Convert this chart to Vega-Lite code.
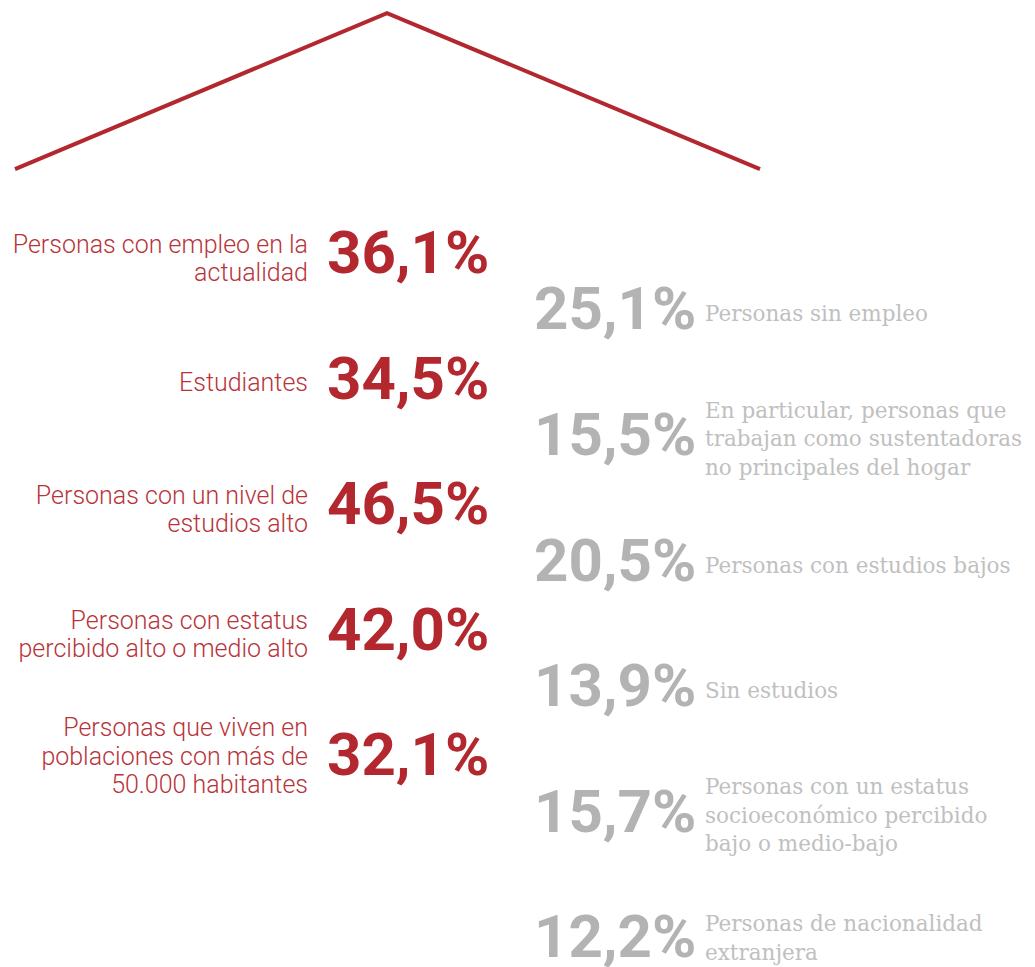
{
  "$schema": "https://vega.github.io/schema/vega-lite/v6.json",
  "width": 1035,
  "height": 967,
  "padding": 0,
  "autosize": {"type": "none"},
  "background": "white",
  "config": {"view": {"stroke": null}},
  "datasets": {
    "items": [
      {"side": "left", "slot": 0, "value": "36,1%", "label": "Personas con empleo en la\nactualidad"},
      {"side": "left", "slot": 1, "value": "34,5%", "label": "Estudiantes"},
      {"side": "left", "slot": 2, "value": "46,5%", "label": "Personas con un nivel de\nestudios alto"},
      {"side": "left", "slot": 3, "value": "42,0%", "label": "Personas con estatus\npercibido alto o medio alto"},
      {"side": "left", "slot": 4, "value": "32,1%", "label": "Personas que viven en\npoblaciones con más de\n50.000 habitantes"},
      {"side": "right", "slot": 0.45, "value": "25,1%", "label": "Personas sin empleo"},
      {"side": "right", "slot": 1.45, "value": "15,5%", "label": "En particular, personas que\ntrabajan como sustentadoras\nno principales del hogar"},
      {"side": "right", "slot": 2.45, "value": "20,5%", "label": "Personas con estudios bajos"},
      {"side": "right", "slot": 3.45, "value": "13,9%", "label": "Sin estudios"},
      {"side": "right", "slot": 4.45, "value": "15,7%", "label": "Personas con un estatus\nsocioeconómico percibido\nbajo o medio-bajo"},
      {"side": "right", "slot": 5.45, "value": "12,2%", "label": "Personas de nacionalidad\nextranjera"}
    ]
  },
  "layer": [
    {
      "data": {"values": [
        {"px": 15, "py": -0.685},
        {"px": 387, "py": -1.928},
        {"px": 760, "py": -0.685}
      ]},
      "mark": {"type": "line", "color": "#b3282e", "strokeWidth": 4, "strokeCap": "butt", "strokeJoin": "miter"},
      "encoding": {
        "x": {"field": "px", "type": "quantitative", "scale": {"domain": [0, 1035], "nice": false, "zero": false}, "axis": null},
        "y": {"field": "py", "type": "quantitative", "scale": {"domain": [-2.032, 5.673], "nice": false, "zero": false, "reverse": true}, "axis": null},
        "order": {"field": "px", "type": "quantitative"}
      }
    },
    {
      "data": {"name": "items"},
      "transform": [{"filter": "datum.side === 'left' && length(split(datum.label, '\\n')) == 1"}],
      "mark": {"type": "text", "align": "right", "baseline": "middle", "font": "Roboto", "fontWeight": 300, "fontSize": 25, "lineHeight": 28, "lineBreak": "\n", "color": "#b8343a", "dy": 2},
      "encoding": {
        "x": {"datum": 308, "type": "quantitative"},
        "y": {"field": "slot", "type": "quantitative"},
        "text": {"field": "label"}
      }
    },
    {
      "data": {"name": "items"},
      "transform": [{"filter": "datum.side === 'left' && length(split(datum.label, '\\n')) == 2"}],
      "mark": {"type": "text", "align": "right", "baseline": "middle", "font": "Roboto", "fontWeight": 300, "fontSize": 25, "lineHeight": 28, "lineBreak": "\n", "color": "#b8343a", "dy": -10.5},
      "encoding": {
        "x": {"datum": 308, "type": "quantitative"},
        "y": {"field": "slot", "type": "quantitative"},
        "text": {"field": "label"}
      }
    },
    {
      "data": {"name": "items"},
      "transform": [{"filter": "datum.side === 'left' && length(split(datum.label, '\\n')) == 3"}],
      "mark": {"type": "text", "align": "right", "baseline": "middle", "font": "Roboto", "fontWeight": 300, "fontSize": 25, "lineHeight": 28.5, "lineBreak": "\n", "color": "#b8343a", "dy": -29},
      "encoding": {
        "x": {"datum": 308, "type": "quantitative"},
        "y": {"field": "slot", "type": "quantitative"},
        "text": {"field": "label"}
      }
    },
    {
      "data": {"name": "items"},
      "transform": [{"filter": "datum.side === 'left'"}],
      "mark": {"type": "text", "align": "left", "baseline": "middle", "font": "Roboto", "fontWeight": "bold", "fontSize": 60, "color": "#b3282e", "dy": 0},
      "encoding": {
        "x": {"datum": 327, "type": "quantitative"},
        "y": {"field": "slot", "type": "quantitative"},
        "text": {"field": "value"}
      }
    },
    {
      "data": {"name": "items"},
      "transform": [{"filter": "datum.side === 'right'"}],
      "mark": {"type": "text", "align": "left", "baseline": "middle", "font": "Roboto", "fontWeight": "bold", "fontSize": 60, "color": "#b3b3b3", "dy": 0},
      "encoding": {
        "x": {"datum": 534, "type": "quantitative"},
        "y": {"field": "slot", "type": "quantitative"},
        "text": {"field": "value"}
      }
    },
    {
      "data": {"name": "items"},
      "transform": [{"filter": "datum.side === 'right' && length(split(datum.label, '\\n')) == 1"}],
      "mark": {"type": "text", "align": "left", "baseline": "middle", "font": "DejaVu Serif", "fontWeight": "normal", "fontSize": 21.5, "lineHeight": 28.5, "lineBreak": "\n", "color": "#c0c0c0", "dy": 4},
      "encoding": {
        "x": {"datum": 705, "type": "quantitative"},
        "y": {"field": "slot", "type": "quantitative"},
        "text": {"field": "label"}
      }
    },
    {
      "data": {"name": "items"},
      "transform": [{"filter": "datum.side === 'right' && length(split(datum.label, '\\n')) == 2"}],
      "mark": {"type": "text", "align": "left", "baseline": "middle", "font": "DejaVu Serif", "fontWeight": "normal", "fontSize": 21.5, "lineHeight": 28.5, "lineBreak": "\n", "color": "#c0c0c0", "dy": -14},
      "encoding": {
        "x": {"datum": 705, "type": "quantitative"},
        "y": {"field": "slot", "type": "quantitative"},
        "text": {"field": "label"}
      }
    },
    {
      "data": {"name": "items"},
      "transform": [{"filter": "datum.side === 'right' && length(split(datum.label, '\\n')) == 3"}],
      "mark": {"type": "text", "align": "left", "baseline": "middle", "font": "DejaVu Serif", "fontWeight": "normal", "fontSize": 21.5, "lineHeight": 28.5, "lineBreak": "\n", "color": "#c0c0c0", "dy": -25.5},
      "encoding": {
        "x": {"datum": 705, "type": "quantitative"},
        "y": {"field": "slot", "type": "quantitative"},
        "text": {"field": "label"}
      }
    }
  ]
}
